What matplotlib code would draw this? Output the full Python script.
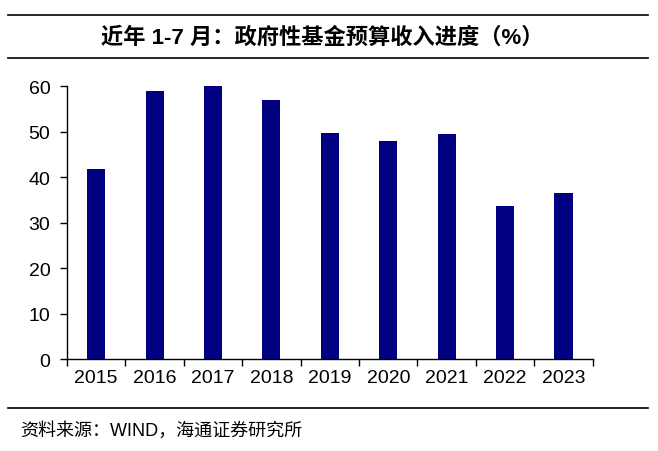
import numpy as np
import matplotlib
matplotlib.use("Agg")
import matplotlib.pyplot as plt
from matplotlib.lines import Line2D

plt.rcParams['font.family'] = ['Liberation Sans', 'Noto Sans CJK SC', 'DejaVu Sans']

# data
years = ['2015', '2016', '2017', '2018', '2019', '2020', '2021', '2022', '2023']
progress = [41.7, 59.0, 59.9, 56.9, 49.6, 48.0, 49.5, 33.7, 36.5]
y_ticks = [0, 10, 20, 30, 40, 50, 60]

title = '近年 1-7 月：政府性基金预算收入进度（%）'
source = '资料来源：WIND，海通证券研究所'

fig = plt.figure(figsize=(6.58, 4.52), dpi=100)
ax = fig.add_axes([0.1018, 0.2035, 0.799, 0.604])

x = np.arange(len(years))
ax.bar(x, progress, width=0.31, color='#000080')

ax.set_xlim(-0.5, len(years) - 0.5)
ax.set_ylim(0, 60)
ax.set_yticks(y_ticks)
ax.set_xticks(x)
ax.set_xticklabels(years)
ax.set_xticks(np.arange(len(years) + 1) - 0.5, minor=True)
ax.tick_params(axis='x', which='major', length=0, pad=7, labelsize=14)
ax.tick_params(axis='x', which='minor', length=5, width=1, direction='out')
ax.tick_params(axis='y', length=5, width=1, direction='out', labelsize=14, pad=7)

for s in ['top', 'right']:
    ax.spines[s].set_visible(False)
for s in ['left', 'bottom']:
    ax.spines[s].set_linewidth(1)

# header / footer lines and texts
for yy in [1 - 16 / 452, 1 - 59 / 452, 1 - 409 / 452]:
    fig.add_artist(Line2D([8 / 658, 648 / 658], [yy, yy], color='black', lw=1.2))

fig.text(0.49, 1 - 38 / 452, title, ha='center', va='center', fontsize=16,
         fontweight='bold', family=['Liberation Sans', 'Noto Sans CJK SC'])
fig.text(20 / 658, 1 - 431 / 452, source, ha='left', va='center', fontsize=13,
         family=['Liberation Sans', 'Noto Sans CJK SC'])

fig.savefig('out.png', dpi=100)
